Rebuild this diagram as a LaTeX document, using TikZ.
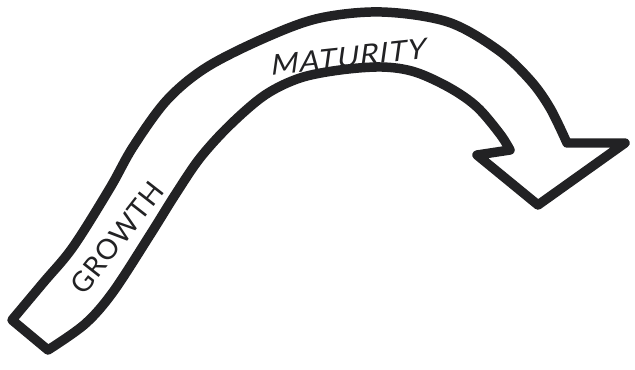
\documentclass[tikz,border=0pt]{standalone}
\usepackage{fontspec}
\setmainfont{Lato}
\newfontfamily\handupright[LetterSpace=4]{Lato}
\usepackage{xcolor}
\usepackage{tikz}
\usetikzlibrary{calc}
\definecolor{inkline}{RGB}{34, 34, 36}
\tikzset{
  arrowband/.style={
    draw=inkline, line width=5.4pt, line join=round, line cap=round, fill=white
  },
  stagelabel/.style={
    text=inkline, font=\fontsize{16}{18}\selectfont\handupright, inner sep=0pt
  }
}
\begin{document}
\begin{tikzpicture}[x=0.02cm, y=-0.02cm]

  % Canvas
  \useasboundingbox (0,0) rectangle (635,369);

  % Curved arrow band
  \draw[arrowband]
    plot[smooth, tension=0.55] coordinates {
      (12,320) (43,283) (73,247) (110,188) (133,147) (167,100) (207,67)
      (267,37) (320,18) (382,12) (448,22) (498,50) (530,80) (550,108) (567,143)}
    -- (625,143) -- (538,205) -- (477,155) -- (510,150)
    -- plot[smooth, tension=0.55] coordinates {
      (510,150) (500,134) (477,107) (450,88) (415,72) (382,67) (340,70)
      (300,78) (265,95) (230,125) (200,158) (175,195) (150,235) (113,292) (85,324) (48,350)}
    -- cycle;

  % Stage labels
  \node[stagelabel, rotate=52] (growth) at (117,238) {GROWTH};
  \node[stagelabel, rotate=6, xslant=0.25, xscale=1.05, transform shape] (maturity) at (349,57) {MATURITY};

\end{tikzpicture}
\end{document}
